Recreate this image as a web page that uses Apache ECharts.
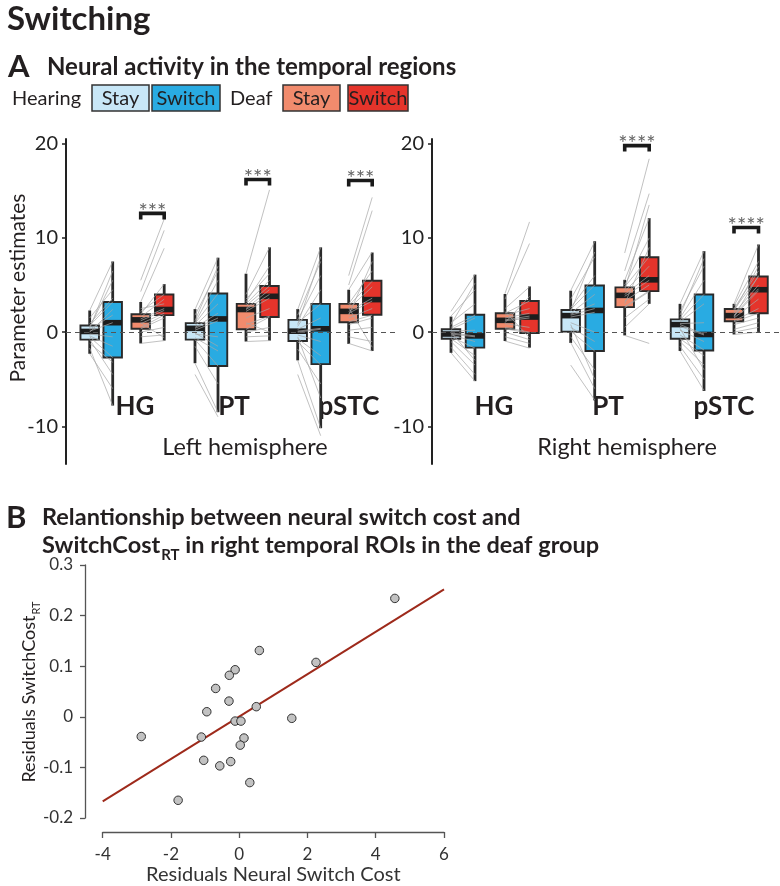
<!DOCTYPE html>
<html><head><meta charset="utf-8">
<script src="https://cdn.jsdelivr.net/npm/echarts@6/dist/echarts.min.js"></script>
<style>html,body{margin:0;padding:0;background:#fff}#c{width:780px;height:886px}</style>
</head><body><div id="c"></div>
<script>
// ---------------- DATA ----------------
const regions = ['HG', 'PT', 'pSTC'];
const groupNames = ['Hearing', 'Deaf'];
const conditionNames = ['Stay', 'Switch'];
const panelATicks = [-10, 0, 10, 20];
const hemisphereNames = ['Left hemisphere', 'Right hemisphere'];

// Box statistics [min, Q1, median, Q3, max] — order: Hearing Stay, Hearing Switch, Deaf Stay, Deaf Switch
const leftHGBoxes   = [[-2.3,-0.8,0.07,0.7,2.3],[-7.8,-2.7,1.0,3.2,7.5],[-1.2,0.35,1.3,1.9,3.2],[-0.9,1.8,2.4,4.0,5.1]];
const leftPTBoxes   = [[-3.3,-0.8,0.4,0.95,2.45],[-8.5,-3.6,1.4,4.1,7.9],[-1.0,0.3,2.4,3.0,6.2],[-0.9,1.6,3.8,4.9,9.0]];
const leftPSTCBoxes = [[-3.0,-0.95,0.1,1.3,2.45],[-10.2,-3.4,0.35,3.0,9.0],[-1.25,1.05,2.2,3.0,4.5],[-2.0,1.85,3.45,5.45,8.45]];
const rightHGBoxes  = [[-2.2,-0.7,-0.2,0.3,1.65],[-5.2,-1.65,-0.4,1.85,6.1],[-0.95,0.35,1.25,2.0,4.05],[-1.65,-0.1,1.6,3.3,4.85]];
const rightPTBoxes  = [[-1.15,0.05,1.75,2.35,4.4],[-7.25,-2.0,2.3,4.95,9.65],[-0.35,2.65,3.9,4.75,5.55],[3.0,4.35,5.55,7.95,12.1]];
const rightPSTCBoxes= [[-2.0,-0.7,0.8,1.35,3.0],[-6.25,-1.95,-0.25,4.0,8.6],[-0.25,1.15,1.75,2.45,3.0],[0.0,2.0,4.5,5.9,9.3]];

// Individual subjects (stay -> switch)
const leftHGHearingStay   = [2.3,1.5,0.9,0.7,0.5,0.3,0.1,0.0,-0.2,-0.5,-0.8,-1.2,-1.7,-2.3,0.4,-0.4];
const leftHGHearingSwitch = [7.5,4.5,3.6,3.2,5.5,1.8,1.0,2.4,-0.5,-2.7,-4.5,-3.2,-7.8,-6.0,6.5,-1.5];
const leftHGDeafStay      = [5.5,4.3,3.2,2.2,1.9,1.6,1.4,1.2,0.9,0.5,0.35,0.0,-0.5,-1.2,1.0,2.5];
const leftHGDeafSwitch    = [12.0,10.8,8.9,4.0,5.1,3.5,2.5,2.3,2.0,1.8,1.5,0.5,-0.3,-0.9,-0.6,3.0];
const leftPTHearingStay   = [2.4,1.8,1.0,0.9,0.7,0.5,0.4,0.2,-0.2,-0.6,-0.8,-1.5,-3.3,-4.5,1.2,-0.1];
const leftPTHearingSwitch = [7.9,6.5,5.5,4.1,3.0,2.0,1.5,1.2,-0.5,-2.0,-3.6,-5.5,-8.5,-9.0,7.0,-1.5];
const leftPTDeafStay      = [6.2,4.0,3.2,3.0,2.8,2.5,2.4,2.2,1.5,0.8,0.3,0.0,-0.5,-1.0,3.5,1.0];
const leftPTDeafSwitch    = [15.1,9.0,7.0,5.5,4.9,4.5,4.0,3.6,2.5,1.7,1.6,0.5,-0.4,-0.9,6.2,0.0];
const leftPSTCHearingStay   = [2.4,1.8,1.3,1.0,0.6,0.3,0.1,0.0,-0.3,-0.7,-1.0,-1.8,-3.0,-4.5,0.8,-0.5];
const leftPSTCHearingSwitch = [9.0,7.5,6.0,3.0,4.5,1.5,0.4,0.3,-1.0,-2.5,-3.5,-5.5,-10.2,-11.0,8.0,-7.0];
const leftPSTCDeafStay      = [6.0,5.0,4.5,3.0,2.8,2.5,2.2,2.0,1.5,1.1,0.8,0.2,-0.5,-1.2,1.8,2.6];
const leftPSTCDeafSwitch    = [14.3,12.9,8.5,6.5,5.4,4.8,3.6,3.3,2.5,1.8,1.5,0.5,-1.0,-2.0,7.5,-1.6];
const rightHGHearingStay   = [2.2,1.7,1.0,0.5,0.3,0.1,-0.1,-0.2,-0.3,-0.5,-0.7,-1.0,-1.6,-2.2,0.8,0.0];
const rightHGHearingSwitch = [6.1,4.5,3.0,1.8,1.5,0.2,-0.4,-0.5,-1.0,-1.7,-2.5,-3.5,-4.5,-5.2,5.2,-3.0];
const rightHGDeafStay      = [4.1,3.5,2.5,2.0,1.8,1.5,1.3,1.2,0.9,0.5,0.35,0.0,-0.5,-0.95,1.0,2.2];
const rightHGDeafSwitch    = [11.7,9.4,4.8,3.3,2.5,2.0,1.7,1.5,0.5,0.0,-0.1,-0.8,-1.2,-1.7,3.8,-0.6];
const rightPTHearingStay   = [4.4,3.5,2.6,2.4,2.0,1.9,1.8,1.6,1.0,0.5,0.1,-0.5,-1.1,-3.5,2.2,0.8];
const rightPTHearingSwitch = [9.6,8.0,6.0,5.0,4.0,3.0,2.5,2.1,0.0,-1.0,-2.0,-4.0,-6.0,-7.2,8.5,-5.0];
const rightPTDeafStay      = [8.4,6.5,5.5,5.0,4.8,4.3,4.0,3.8,3.3,2.7,2.6,1.5,0.5,-0.35,4.5,3.0];
const rightPTDeafSwitch    = [18.4,14.7,12.1,10.0,8.0,7.0,6.0,5.5,5.0,4.4,4.3,3.5,3.0,-1.2,13.5,9.0];
const rightPSTCHearingStay   = [3.0,2.2,1.5,1.3,1.1,0.9,0.8,0.6,0.2,-0.3,-0.7,-1.0,-1.5,-2.0,1.8,0.4];
const rightPSTCHearingSwitch = [8.6,7.0,5.5,4.0,3.0,1.0,-0.2,-0.3,-1.0,-1.9,-2.5,-3.5,-5.0,-6.2,7.8,-4.0];
const rightPSTCDeafStay      = [3.0,2.8,2.5,2.4,2.0,1.8,1.7,1.5,1.2,1.1,0.8,0.3,0.0,-0.25,2.2,1.6];
const rightPSTCDeafSwitch    = [9.3,7.5,6.5,5.9,5.0,4.6,4.4,3.5,2.5,2.0,1.5,1.0,0.5,0.0,7.0,6.0];

// Significance (Deaf Stay vs Deaf Switch)
const leftSigRegions = [0, 1, 2];
const leftSigHeights = [12.6, 16.2, 16.1];
const leftSigLabels  = ['***', '***', '***'];
const rightSigRegions = [1, 2];
const rightSigHeights = [19.8, 11.1];
const rightSigLabels  = ['****', '****'];

// Panel B
const neuralSwitchCost = [4.56,0.59,2.25,-0.12,-0.29,-0.69,-0.30,0.50,-0.95,1.54,-0.12,0.05,-2.87,-1.11,0.14,0.03,-1.04,-0.25,-0.57,0.31,-1.79];
const switchCostRT     = [0.234,0.131,0.1075,0.093,0.082,0.056,0.031,0.020,0.010,-0.003,-0.0085,-0.0085,-0.039,-0.040,-0.042,-0.056,-0.086,-0.0885,-0.097,-0.130,-0.165];
const fitLineX = [-4, 6];
const fitLineY = [-0.167, 0.252];

// ---------------- LAYOUT / STYLE ----------------
const FONT = 'Lato, "Open Sans", sans-serif';
const TXT = '#231f20';
const boxColors = ['#c8e7f7', '#29abe2', '#f18b6d', '#e5342b'];
const LAY = {
  left:  {grid:{left:66, top:139, width:329, height:325}, xMax:329, groupStart:[23.7,129,231.7], offsets:[0,23,51,74.5], boxW:18.5},
  right: {grid:{left:432, top:139, width:348, height:325}, xMax:348, groupStart:[19,138.7,248], offsets:[0,24,54,78.5], boxW:18.5}
};

const leftBoxes = [leftHGBoxes, leftPTBoxes, leftPSTCBoxes];
const rightBoxes = [rightHGBoxes, rightPTBoxes, rightPSTCBoxes];
const leftSubjects = [
  [[leftHGHearingStay,leftHGHearingSwitch],[leftHGDeafStay,leftHGDeafSwitch]],
  [[leftPTHearingStay,leftPTHearingSwitch],[leftPTDeafStay,leftPTDeafSwitch]],
  [[leftPSTCHearingStay,leftPSTCHearingSwitch],[leftPSTCDeafStay,leftPSTCDeafSwitch]]
];
const rightSubjects = [
  [[rightHGHearingStay,rightHGHearingSwitch],[rightHGDeafStay,rightHGDeafSwitch]],
  [[rightPTHearingStay,rightPTHearingSwitch],[rightPTDeafStay,rightPTDeafSwitch]],
  [[rightPSTCHearingStay,rightPSTCHearingSwitch],[rightPSTCDeafStay,rightPSTCDeafSwitch]]
];

function buildBoxData(boxesByRegion, lay) {
  const out = [];
  boxesByRegion.forEach((boxes, r) => boxes.forEach((b, ci) => {
    out.push([lay.groupStart[r] + lay.offsets[ci], b[0], b[1], b[2], b[3], b[4], ci]);
  }));
  return out;
}
function buildLineData(subjByRegion, lay) {
  const out = [];
  subjByRegion.forEach((groups, r) => groups.forEach((pair, g) => {
    const x1 = lay.groupStart[r] + lay.offsets[g * 2];
    const x2 = lay.groupStart[r] + lay.offsets[g * 2 + 1];
    pair[0].forEach((v, i) => out.push([x1, v, x2, pair[1][i]]));
  }));
  return out;
}
function buildSigData(regs, heights, lay) {
  return regs.map((r, i) => [lay.groupStart[r] + lay.offsets[2], lay.groupStart[r] + lay.offsets[3], heights[i]]);
}

function makeRenderBox(lay) {
  return function (params, api) {
    const x = api.value(0);
    const pMin = api.coord([x, api.value(1)]);
    const pQ1 = api.coord([x, api.value(2)]);
    const pMed = api.coord([x, api.value(3)]);
    const pQ3 = api.coord([x, api.value(4)]);
    const pMax = api.coord([x, api.value(5)]);
    const w = api.size([lay.boxW, 0])[0];
    const ci = api.value(6);
    return {type: 'group', children: [
      {type: 'line', shape: {x1: pMin[0], y1: pMin[1], x2: pMax[0], y2: pMax[1]}, style: {stroke: '#2a2a2a', lineWidth: 2.8}},
      {type: 'rect', shape: {x: pQ3[0] - w / 2, y: pQ3[1], width: w, height: pQ1[1] - pQ3[1]}, style: {fill: boxColors[ci], stroke: '#2a2a2a', lineWidth: 1.9}},
      {type: 'rect', shape: {x: pMed[0] - w / 2, y: pMed[1] - 2.8, width: w, height: 5.6}, style: {fill: '#1d1d1d'}}
    ]};
  };
}
function renderSubject(params, api) {
  const p1 = api.coord([api.value(0), api.value(1)]);
  const p2 = api.coord([api.value(2), api.value(3)]);
  return {type: 'line', shape: {x1: p1[0], y1: p1[1], x2: p2[0], y2: p2[1]}, style: {stroke: '#a6a6a6', lineWidth: 0.7}};
}
function makeRenderSig(labels) {
  return function (params, api) {
    const a = api.coord([api.value(0), api.value(2)]);
    const b = api.coord([api.value(1), api.value(2)]);
    return {type: 'group', children: [
      {type: 'polyline', shape: {points: [[a[0], a[1] + 6], [a[0], a[1]], [b[0], b[1]], [b[0], b[1] + 6]]}, style: {stroke: '#1a1a1a', lineWidth: 3.6, fill: null}},
      {type: 'text', style: {text: labels[params.dataIndex], x: (a[0] + b[0]) / 2, y: a[1] - 2, align: 'center', verticalAlign: 'middle', fill: '#666', font: '22px ' + FONT}}
    ]};
  };
}

function panelAxes(lay, gi) {
  return {
    x: {gridIndex: gi, type: 'value', min: 0, max: lay.xMax, show: false},
    y: {gridIndex: gi, type: 'value', min: -14, max: 20.5,
        axisLine: {show: true, onZero: false, lineStyle: {color: '#222', width: 2}},
        axisTick: {show: true, length: 4, customValues: panelATicks, lineStyle: {color: '#222', width: 1.5}},
        axisLabel: {customValues: panelATicks, fontSize: 20, color: '#222', fontFamily: FONT, margin: 8},
        splitLine: {show: false}}
  };
}
function panelSeries(boxesByRegion, subjByRegion, sigRegs, sigH, sigL, lay, gi) {
  return [
    {type: 'line', xAxisIndex: gi, yAxisIndex: gi, data: [], silent: true,
     markLine: {silent: true, symbol: ['none', 'none'], label: {show: false}, lineStyle: {type: [5, 4], color: '#555', width: 1}, data: [{yAxis: 0}]}},
    {type: 'custom', xAxisIndex: gi, yAxisIndex: gi, z: 2, silent: true, renderItem: makeRenderBox(lay), data: buildBoxData(boxesByRegion, lay), encode: {x: 0, y: [1, 5]}},
    {type: 'custom', xAxisIndex: gi, yAxisIndex: gi, z: 3, silent: true, renderItem: renderSubject, data: buildLineData(subjByRegion, lay), encode: {x: [0, 2], y: [1, 3]}},
    {type: 'custom', xAxisIndex: gi, yAxisIndex: gi, z: 4, silent: true, renderItem: makeRenderSig(sigL), data: buildSigData(sigRegs, sigH, lay), encode: {x: [0, 1], y: 2}}
  ];
}

const mctx = document.createElement('canvas').getContext('2d');
function tw(t, f) { mctx.font = f; return mctx.measureText(t).width; }
function subscriptTexts(x, y, main, sub, rest, size, weight, fill) {
  const f = weight + ' ' + size + 'px ' + FONT;
  const fs = weight + ' ' + Math.round(size * 0.62) + 'px ' + FONT;
  const w1 = tw(main, f), w2 = tw(sub, fs);
  return [
    {type: 'text', x: x, y: y, style: {text: main, font: f, fill: fill, verticalAlign: 'middle'}},
    {type: 'text', x: x + w1 + 1, y: y + size * 0.42, style: {text: sub, font: fs, fill: fill, verticalAlign: 'middle'}},
    {type: 'text', x: x + w1 + w2 + 1, y: y, style: {text: rest, font: f, fill: fill, verticalAlign: 'middle'}}
  ];
}
function tx(text, x, y, font, opts) {
  return Object.assign({type: 'text', x: x, y: y, style: Object.assign({text: text, font: font, fill: TXT, verticalAlign: 'middle', align: 'left'}, (opts && opts.style) || {})}, (opts && opts.el) || {});
}

function legendBox(x, w, label, color) {
  return {type: 'group', children: [
    {type: 'rect', shape: {x: x, y: 85, width: w, height: 26}, style: {fill: color, stroke: '#333', lineWidth: 1.5}},
    {type: 'text', x: x + w / 2, y: 98.5, style: {text: label, font: '20px ' + FONT, fill: TXT, align: 'center', verticalAlign: 'middle'}}
  ]};
}

// Panel B y label (rotated, with subscript)
const yLabFont = '18px ' + FONT, yLabSub = '11px ' + FONT;
const yLabW = tw('Residuals SwitchCost', yLabFont) + tw('RT', yLabSub) + 1;
const yLabChildren = subscriptTexts(-yLabW / 2, 0, 'Residuals SwitchCost', 'RT', '', 18, 'normal', TXT);

const graphics = [
  tx('Switching', 7, 19, 'bold 33px ' + FONT),
  tx('A', 8, 67, 'bold 31px ' + FONT),
  tx('Neural activity in the temporal regions', 47, 67, 'bold 24px ' + FONT),
  tx(groupNames[0], 12, 99, '20px ' + FONT),
  legendBox(92, 57, conditionNames[0], boxColors[0]),
  legendBox(152, 68, conditionNames[1], boxColors[1]),
  tx(groupNames[1], 230, 99, '20px ' + FONT),
  legendBox(283, 57, conditionNames[0], boxColors[2]),
  legendBox(348, 60, conditionNames[1], boxColors[3]),
  tx('Parameter estimates', 18, 288, '21px ' + FONT, {style: {align: 'center'}, el: {rotation: Math.PI / 2}}),
  tx(regions[0], 135, 407, 'bold 26px ' + FONT, {style: {align: 'center'}}),
  tx(regions[1], 234, 407, 'bold 26px ' + FONT, {style: {align: 'center'}}),
  tx(regions[2], 349, 407, 'bold 26px ' + FONT, {style: {align: 'center'}}),
  tx(regions[0], 494, 407, 'bold 26px ' + FONT, {style: {align: 'center'}}),
  tx(regions[1], 608, 407, 'bold 26px ' + FONT, {style: {align: 'center'}}),
  tx(regions[2], 724, 407, 'bold 26px ' + FONT, {style: {align: 'center'}}),
  tx(hemisphereNames[0], 245, 447, '23.5px ' + FONT, {style: {align: 'center'}}),
  tx(hemisphereNames[1], 627, 447, '23.5px ' + FONT, {style: {align: 'center'}}),
  tx('B', 6, 518, 'bold 31px ' + FONT),
  tx('Relantionship between neural switch cost and', 42, 517, 'bold 23.5px ' + FONT),
  {type: 'group', children: subscriptTexts(42, 545, 'SwitchCost', 'RT', ' in right temporal ROIs in the deaf group', 23.5, 'bold', TXT)},
  {type: 'group', x: 29, y: 692, rotation: Math.PI / 2, children: yLabChildren}
];

const pl = panelAxes(LAY.left, 0), pr = panelAxes(LAY.right, 1);
const option = {
  animation: false,
  backgroundColor: '#fff',
  grid: [
    Object.assign({containLabel: false}, LAY.left.grid),
    Object.assign({containLabel: false}, LAY.right.grid),
    {left: 102.7, top: 565, width: 341.3, height: 253, containLabel: false}
  ],
  xAxis: [pl.x, pr.x,
    {gridIndex: 2, type: 'value', min: -4, max: 6, interval: 2, offset: 14,
     axisLine: {show: true, onZero: false, lineStyle: {color: '#555', width: 1.3}},
     axisTick: {show: true, length: 6, lineStyle: {color: '#555', width: 1.3}},
     axisLabel: {fontSize: 17, color: '#333', fontFamily: FONT, margin: 14},
     splitLine: {show: false},
     name: 'Residuals Neural Switch Cost', nameLocation: 'middle', nameGap: 33,
     nameTextStyle: {fontSize: 20, color: '#333', fontFamily: FONT}}
  ],
  yAxis: [pl.y, pr.y,
    {gridIndex: 2, type: 'value', min: -0.2, max: 0.3, interval: 0.1, offset: 17.7,
     axisLine: {show: true, onZero: false, lineStyle: {color: '#555', width: 1.3}},
     axisTick: {show: true, length: 5, lineStyle: {color: '#555', width: 1.3}},
     axisLabel: {fontSize: 17, color: '#333', fontFamily: FONT, margin: 12, formatter: v => String(Math.round(v * 10) / 10)},
     splitLine: {show: false}}
  ],
  series: [
    ...panelSeries(leftBoxes, leftSubjects, leftSigRegions, leftSigHeights, leftSigLabels, LAY.left, 0),
    ...panelSeries(rightBoxes, rightSubjects, rightSigRegions, rightSigHeights, rightSigLabels, LAY.right, 1),
    {type: 'line', xAxisIndex: 2, yAxisIndex: 2, data: fitLineX.map((x, i) => [x, fitLineY[i]]), showSymbol: false, symbol: 'none',
     lineStyle: {color: '#9e2a1b', width: 2}, z: 2, silent: true},
    {type: 'scatter', xAxisIndex: 2, yAxisIndex: 2, data: neuralSwitchCost.map((x, i) => [x, switchCostRT[i]]), symbolSize: 8.5,
     itemStyle: {color: '#c2c2c2', borderColor: '#333', borderWidth: 1, opacity: 1}, z: 3, silent: true}
  ],
  graphic: graphics
};
const chart = echarts.init(document.getElementById('c'), null, {renderer: 'canvas'});
chart.setOption(option);
</script></body></html>
